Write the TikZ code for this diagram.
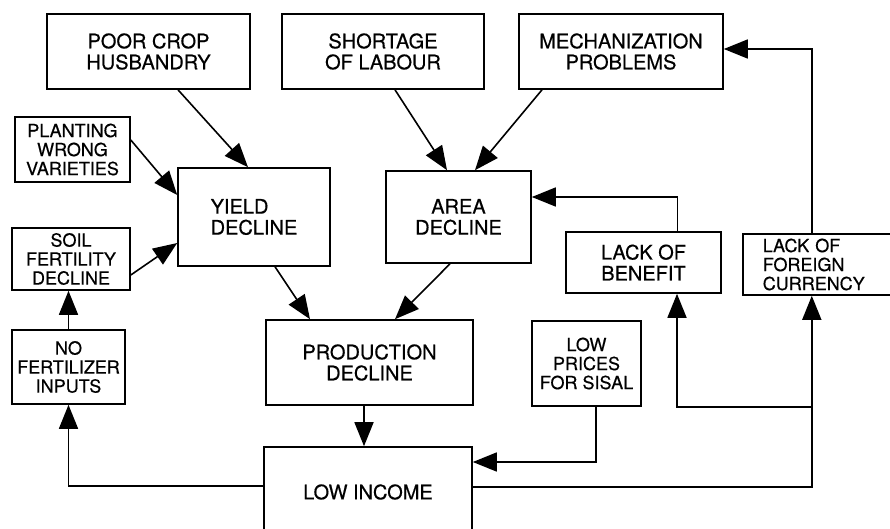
\documentclass[tikz,border=0pt]{standalone}
\usepackage{fontspec}
\setmainfont{TeX Gyre Heros}
\newfontfamily\scanfont{TeX Gyre Heros}[FakeBold=0.5]
\usepackage{tikz}
\usetikzlibrary{arrows.meta, calc}

\begin{document}
\begin{tikzpicture}[
    x=1pt, y=-1pt,
    box/.style={rectangle, draw, line width=1.6pt, align=center, inner sep=0pt, font=\scanfont\fontsize{20}{21}\selectfont},
    smallbox/.style={box, font=\scanfont\fontsize{18}{19}\selectfont},
    arrow/.style={line width=1.6pt, -{Triangle[length=24pt, width=19pt]}},
    line/.style={line width=1.6pt}
]
\useasboundingbox (0,0) rectangle (890,528);
\clip (0,0) rectangle (890,528);

% top row
\node[box, minimum width=203, minimum height=75] (husbandry) at (148.5,51.5) {POOR CROP\\HUSBANDRY};
\node[box, minimum width=202, minimum height=75] (labour) at (383,51.5) {SHORTAGE\\OF LABOUR};
\node[box, minimum width=204, minimum height=75] (mech) at (621,51.5) {MECHANIZATION\\PROBLEMS};

% left column
\node[smallbox, minimum width=115, minimum height=65] (varieties) at (72.5,149.5) {PLANTING\\WRONG\\VARIETIES};
\node[smallbox, minimum width=118, minimum height=62] (soil) at (71,259) {SOIL\\FERTILITY\\DECLINE};
\node[smallbox, minimum width=113, minimum height=74] (nofert) at (68.5,367) {NO\\FERTILIZER\\INPUTS};

% middle
\node[box, align=left, minimum width=152, minimum height=98] (yield) at (254,217) {YIELD\\DECLINE};
\node[box, minimum width=145, minimum height=92] (area) at (458.5,217) {AREA\\DECLINE};
\node[box, minimum width=207, minimum height=85] (production) at (369.5,362.5) {PRODUCTION\\DECLINE};
\node[box, minimum width=208, minimum height=90] (income) at (368,492) {LOW INCOME};

% right side
\node[smallbox, minimum width=109, minimum height=85] (prices) at (586.5,363.5) {LOW\\PRICES\\FOR SISAL};
\node[box, minimum width=155, minimum height=61] (benefit) at (643.5,262.5) {LACK OF\\BENEFIT};
\node[smallbox, align=left, text width=118pt, inner xsep=20pt, minimum height=61, anchor=west] (currency) at (742,264.5) {LACK OF\\FOREIGN\\CURRENCY};

% causes of yield and area decline
\draw[arrow] ([xshift=29.5]husbandry.south) -- ([xshift=-6]yield.north);
\draw[arrow] ([xshift=12]labour.south) -- ([xshift=-11.5]area.north);
\draw[arrow] ([xshift=-79]mech.south) -- ([xshift=16.5]area.north);
\draw[arrow] ([yshift=9.5]varieties.east) -- ([yshift=22]yield.west);
\draw[arrow] ([yshift=-16]soil.east) -- ([yshift=-26]yield.west);
\draw[arrow] (nofert.north) -- (nofert.north |- soil.south);

% production and income
\draw[arrow] ([xshift=21]yield.south) -- ([xshift=-59.5]production.north);
\draw[arrow] ([xshift=-8.5]area.south) -- ([xshift=25.5]production.north);
\draw[arrow] ([xshift=-5.5]production.south) -- ([xshift=-5.5]production.south |- income.north);
\draw[arrow] ([xshift=9.5]prices.south) |- ([yshift=30]income.east);

% feedback loops
\draw[arrow] ([yshift=6]income.west) -| (nofert.south);
\draw[arrow] ([yshift=5]income.east) -| ([xshift=-10]currency.south);
\coordinate (split) at ([xshift=-10]currency.south |- prices.south);
\draw[arrow] (split) -| ([xshift=33.5]benefit.south);
\draw[arrow] ([xshift=34]benefit.north) |- ([yshift=20]area.east);
\draw[arrow] ([xshift=-10]currency.north) |- ([yshift=2.5]mech.east);

\end{tikzpicture}
\end{document}
